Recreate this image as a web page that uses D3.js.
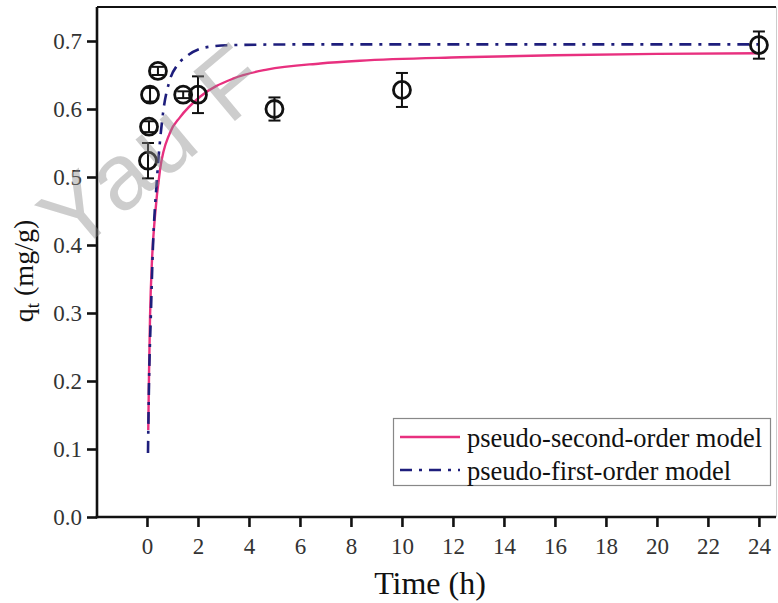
<!DOCTYPE html>
<html>
<head>
<meta charset="utf-8">
<script src="https://cdn.jsdelivr.net/npm/d3@7"></script>
<style>
  html, body { margin: 0; padding: 0; background: #fff; }
  svg { display: block; }
</style>
</head>
<body>
<svg id="chart" width="778" height="603"></svg>
<script>
// Measured adsorption capacity over time (mean ± error)
const sampleTime = [0.04, 0.08, 0.12, 0.43, 1.42, 2, 5, 10, 24];
const sampleQ    = [0.524, 0.574, 0.621, 0.656, 0.621, 0.621, 0.600, 0.628, 0.694];
const sampleErr  = [0.026, 0.008, 0.010, 0.006, 0.005, 0.027, 0.017, 0.025, 0.020];

// Pseudo-second-order fitted curve
const psoTime = [0.05, 0.08, 0.12, 0.2, 0.31, 0.51, 0.9, 1.3, 2.08, 3.4, 4.7, 6.8, 8.35, 12.3, 16, 20, 24];
const psoQ    = [0.128, 0.21, 0.294, 0.38, 0.441, 0.51, 0.565, 0.588, 0.618, 0.645, 0.658, 0.667, 0.671, 0.676, 0.679, 0.681, 0.682];

// Pseudo-first-order fitted curve
const pfoTime = [0.04, 0.08, 0.15, 0.23, 0.38, 0.63, 0.9, 1.2, 1.57, 2.35, 3.4, 6, 12, 24];
const pfoQ    = [0.094, 0.197, 0.294, 0.393, 0.491, 0.594, 0.643, 0.665, 0.678, 0.691, 0.694, 0.695, 0.695, 0.695];

const xTicks = [0, 2, 4, 6, 8, 10, 12, 14, 16, 18, 20, 22, 24];
const yTicks = [0, 0.1, 0.2, 0.3, 0.4, 0.5, 0.6, 0.7];

const legendLabels = ["pseudo-second-order model", "pseudo-first-order model"];

const svg = d3.select("#chart");
const pLeft = 97, pRight = 776, pTop = 7, pBottom = 517;

const x = d3.scaleLinear().domain([-1.96, 24.67]).range([pLeft, pRight]);
const y = d3.scaleLinear().domain([0, 0.75]).range([pBottom, pTop]);

const serif = "'Liberation Serif', 'Times New Roman', serif";

// frame: top line and faint right edge
svg.append("line").attr("x1", pLeft).attr("x2", pRight).attr("y1", pTop).attr("y2", pTop)
  .attr("stroke", "#111").attr("stroke-width", 2.2);
svg.append("line").attr("x1", pRight + 0.5).attr("x2", pRight + 0.5).attr("y1", pTop).attr("y2", pBottom)
  .attr("stroke", "#ccc").attr("stroke-width", 1);

// axes
const xAxis = svg.append("g").attr("transform", `translate(0,${pBottom})`)
  .call(d3.axisBottom(x).tickValues(xTicks).tickFormat(d3.format("d")).tickSize(10).tickPadding(11));
const yAxis = svg.append("g").attr("transform", `translate(${pLeft},0)`)
  .call(d3.axisLeft(y).tickValues(yTicks).tickFormat(d3.format(".1f")).tickSize(10).tickPadding(5));

[xAxis, yAxis].forEach(a => {
  a.select(".domain").attr("stroke", "#111").attr("stroke-width", 2.6);
  a.selectAll(".tick line").attr("stroke", "#111").attr("stroke-width", 2.6);
  a.selectAll(".tick text").attr("font-family", serif).attr("font-size", 23).attr("fill", "#333");
});
// axis lines run the full length of the plot edges
xAxis.select(".domain").attr("d", `M${pLeft - 1.3},0H${pRight}`);
yAxis.select(".domain").attr("d", `M0,${pBottom + 1.3}V${pTop}`);

// axis titles
svg.append("text").attr("x", 430).attr("y", 594).attr("text-anchor", "middle")
  .attr("font-family", serif).attr("font-size", 32).attr("fill", "#111").text("Time (h)");

const yTitle = svg.append("text").attr("transform", "translate(33,271) rotate(-90)")
  .attr("text-anchor", "middle").attr("font-family", serif).attr("font-size", 28).attr("fill", "#111");
yTitle.append("tspan").text("q");
yTitle.append("tspan").attr("font-size", 19).attr("dy", 6).text("t");
yTitle.append("tspan").attr("dy", -6).text(" (mg/g)");

// fitted curves
const lineGen = d3.line().x(d => x(d[0])).y(d => y(d[1])).curve(d3.curveMonotoneX);
const psoPts = psoTime.map((t, i) => [t, psoQ[i]]);
const pfoPts = pfoTime.map((t, i) => [t, pfoQ[i]]);

const pink = "#e8307f", navy = "#1e1e7c";

svg.append("path").attr("d", lineGen(psoPts)).attr("fill", "none")
  .attr("stroke", pink).attr("stroke-width", 2.4);
svg.append("path").attr("d", lineGen(pfoPts)).attr("fill", "none")
  .attr("stroke", navy).attr("stroke-width", 2.6).attr("stroke-dasharray", "12,7,3,7");

// measured points with error bars
const pts = svg.append("g");
sampleTime.forEach((t, i) => {
  const cx = x(t), q = sampleQ[i], e = sampleErr[i];
  const y1 = y(q + e), y2 = y(q - e);
  const g = pts.append("g").attr("stroke", "#111").attr("stroke-width", 2);
  g.append("line").attr("x1", cx).attr("x2", cx).attr("y1", y1).attr("y2", y2);
  g.append("line").attr("x1", cx - 6).attr("x2", cx + 6).attr("y1", y1).attr("y2", y1);
  g.append("line").attr("x1", cx - 6).attr("x2", cx + 6).attr("y1", y2).attr("y2", y2);
  g.append("circle").attr("cx", cx).attr("cy", y(q)).attr("r", 8.5)
    .attr("fill", "none").attr("stroke-width", 2.8);
});

// legend
const lg = svg.append("g");
lg.append("rect").attr("x", 393.5).attr("y", 418.5).attr("width", 377).attr("height", 67)
  .attr("fill", "#fff").attr("stroke", "#888").attr("stroke-width", 1.2);
const styles = [
  { stroke: pink, dash: null, w: 2.4 },
  { stroke: navy, dash: "12,7,3,7", w: 2.6 }
];
legendLabels.forEach((lab, i) => {
  const ly = 437 + i * 33;
  lg.append("line").attr("x1", 400).attr("x2", 460).attr("y1", ly).attr("y2", ly)
    .attr("stroke", styles[i].stroke).attr("stroke-width", styles[i].w)
    .attr("stroke-dasharray", styles[i].dash);
  lg.append("text").attr("x", 467).attr("y", ly + 10)
    .attr("font-family", serif).attr("font-size", 26.5).attr("fill", "#111").text(lab);
});

// faint diagonal watermark lettering over the plot
svg.append("text").attr("transform", "translate(74,256) rotate(-40)")
  .attr("font-family", "'Liberation Sans', Arial, sans-serif").attr("font-size", 94)
  .attr("letter-spacing", 4)
  .attr("fill", "#8a8a8a").attr("opacity", 0.42).text("Yau F");
</script>
</body>
</html>
